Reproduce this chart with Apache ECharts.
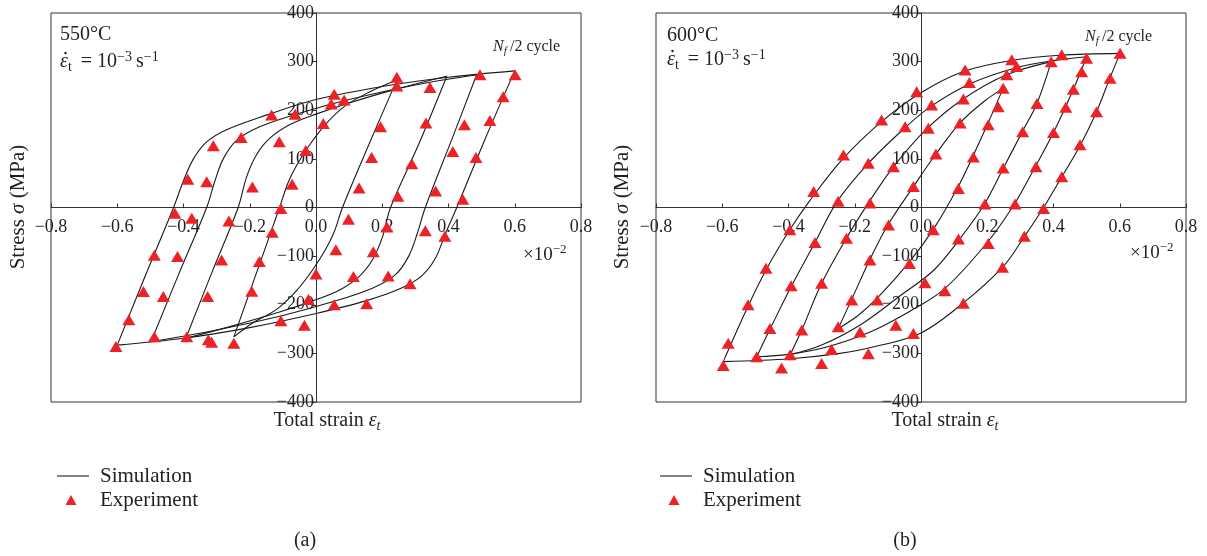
<!DOCTYPE html>
<html>
<head>
<meta charset="utf-8">
<script src="https://cdn.jsdelivr.net/npm/echarts@6.0.0/dist/echarts.min.js"></script>
<style>
  html, body { margin: 0; padding: 0; background: #fff; }
  #chart { width: 1207px; height: 556px; }
</style>
</head>
<body>
<div id="chart"></div>
<script>
// strain in units of 1e-2, stress in MPa

// axis ranges / tick steps
const strainRange = [-0.8, 0.8];
const strainStep = 0.2;
const stressRange = [-400, 400];
const stressStep = 100;

// ---- (a) 550 °C : simulated branches (up = loading, dn = unloading) ----
const sim550_up60 = [[-0.60,-283],[-0.515,-140],[-0.43,0],[-0.40,55],[-0.37,100],[-0.33,135],[-0.27,160],[-0.15,190],[0.0,222],[0.2,249],[0.4,268],[0.60,281]];
const sim550_dn60 = [[0.60,281],[0.51,140],[0.425,0],[0.39,-55],[0.36,-105],[0.32,-140],[0.26,-165],[0.15,-192],[0.0,-218],[-0.2,-247],[-0.4,-269],[-0.60,-283]];
const sim550_up50 = [[-0.498,-276],[-0.415,-138],[-0.33,0],[-0.305,55],[-0.28,100],[-0.24,138],[-0.17,166],[-0.05,194],[0.1,222],[0.3,252],[0.485,273]];
const sim550_dn50 = [[0.485,273],[0.41,140],[0.33,0],[0.305,-55],[0.28,-100],[0.24,-138],[0.17,-166],[0.05,-194],[-0.1,-222],[-0.3,-252],[-0.498,-276]];
const sim550_up40 = [[-0.393,-269],[-0.315,-135],[-0.235,0],[-0.21,62],[-0.18,108],[-0.14,142],[-0.08,170],[0.0,192],[0.1,215],[0.25,245],[0.395,270]];
const sim550_dn40 = [[0.395,270],[0.31,130],[0.225,0],[0.20,-62],[0.17,-108],[0.13,-142],[0.07,-170],[-0.01,-192],[-0.11,-215],[-0.26,-245],[-0.393,-269]];
const sim550_up25 = [[-0.248,-266],[-0.18,-135],[-0.11,0],[-0.085,50],[-0.06,85],[-0.02,128],[0.03,172],[0.09,210],[0.16,237],[0.244,262]];
const sim550_dn25 = [[0.244,262],[0.16,130],[0.08,0],[0.055,-50],[0.03,-85],[-0.01,-128],[-0.06,-172],[-0.12,-210],[-0.19,-237],[-0.248,-266]];

// (a) experiment points
const exp550 = [
  [-0.604,-286],[-0.565,-231],[-0.521,-173],[-0.488,-98],[-0.426,-12],[-0.387,58],[-0.31,127],[-0.134,190],
  [-0.488,-266],[-0.461,-183],[-0.418,-101],[-0.375,-22],[-0.33,53],[-0.226,144],[-0.063,192],
  [-0.39,-266],[-0.327,-183],[-0.285,-108],[-0.263,-28],[-0.192,42],[-0.111,135],
  [-0.325,-272],[-0.315,-277],[-0.248,-279],[-0.194,-172],[-0.171,-111],[-0.132,-51],[-0.106,-2],[-0.072,48],[-0.031,117],[0.022,173],
  [-0.106,-233],[-0.035,-242],[-0.023,-189],[0.0,-137],[0.055,-200],[0.06,-87],[0.098,-24],[0.13,40],[0.168,103],[0.195,166],
  [0.244,268],[0.244,250],[0.046,213],[0.055,233],[0.085,221],
  [0.113,-142],[0.153,-198],[0.173,-91],[0.214,-40],[0.218,-141],[0.247,23],[0.289,90],[0.332,174],[0.344,247],
  [0.284,-157],[0.33,-48],[0.389,-59],[0.361,34],[0.413,115],[0.448,170],[0.443,17],[0.483,103],[0.525,179],[0.565,228],[0.495,273],[0.601,273]
];

// ---- (b) 600 °C : simulated branches ----
const sim600_up60 = [[-0.597,-317],[-0.52,-200],[-0.465,-125],[-0.40,-50],[-0.34,10],[-0.24,97],[-0.12,176],[0.0,236],[0.13,280],[0.27,302],[0.42,313],[0.601,317]];
const sim600_dn60 = [[0.601,317],[0.57,266],[0.53,197],[0.48,127],[0.425,63],[0.37,0],[0.31,-62],[0.25,-120],[0.13,-195],[0.0,-258],[-0.145,-287],[-0.245,-300],[-0.395,-311],[-0.597,-317]];
const sim600_up50 = [[-0.496,-307],[-0.455,-249],[-0.39,-160],[-0.32,-72],[-0.255,10],[-0.16,90],[-0.05,163],[0.03,208],[0.15,255],[0.29,288],[0.40,302],[0.50,310]];
const sim600_dn50 = [[0.50,310],[0.46,243],[0.40,154],[0.345,84],[0.28,5],[0.20,-72],[0.07,-168],[-0.03,-212],[-0.15,-255],[-0.29,-288],[-0.40,-302],[-0.496,-307]];
const sim600_up40 = [[-0.395,-303],[-0.36,-252],[-0.30,-156],[-0.225,-63],[-0.16,8],[-0.085,82],[0.015,160],[0.125,222],[0.255,272],[0.393,300]];
const sim600_dn40 = [[0.393,300],[0.35,214],[0.305,155],[0.248,80],[0.19,5],[0.12,-62],[0.04,-128],[-0.06,-180],[-0.18,-240],[-0.30,-283],[-0.395,-303]];
const sim600_up25 = [[-0.25,-249],[-0.21,-190],[-0.155,-108],[-0.10,-36],[-0.023,43],[0.045,110],[0.118,174],[0.19,218],[0.248,245]];
const sim600_dn25 = [[0.248,245],[0.20,170],[0.155,103],[0.11,40],[0.04,-42],[-0.035,-112],[-0.13,-185],[-0.19,-222],[-0.25,-249]];

// (b) experiment points
const exp600 = [
  [-0.597,-325],[-0.582,-279],[-0.522,-200],[-0.468,-125],[-0.396,-46],[-0.324,33],[-0.234,108],[-0.119,180],[-0.013,238],[0.133,283],[0.274,304],[0.425,314],[0.601,317],
  [-0.496,-307],[-0.456,-249],[-0.392,-161],[-0.32,-72],[-0.25,13],[-0.159,91],[-0.048,166],[0.032,211],[0.146,257],[0.289,290],[0.50,307],
  [-0.395,-303],[-0.36,-252],[-0.30,-156],[-0.225,-63],[-0.154,9],[-0.083,84],[0.022,163],[0.128,223],[0.259,273],[0.393,300],
  [-0.25,-245],[-0.209,-190],[-0.154,-108],[-0.098,-36],[-0.023,43],[0.045,110],[0.118,174],[0.248,245],
  [0.571,266],[0.53,197],[0.48,129],[0.425,63],[0.37,-2],[0.312,-59],[0.246,-123],[0.128,-197],[-0.023,-259],[-0.159,-301],[-0.30,-321],[-0.421,-330],
  [0.485,279],[0.46,243],[0.437,206],[0.40,154],[0.347,84],[0.284,7],[0.203,-74],[0.072,-171],[-0.076,-242],[-0.27,-292],
  [0.35,214],[0.307,156],[0.248,81],[0.193,7],[0.113,-65],[0.012,-155],[-0.184,-256],
  [0.233,207],[0.203,170],[0.158,104],[0.113,39],[0.037,-46],[-0.035,-115],[-0.132,-190]
];

const panels = [
  { left: 51,  sims: [sim550_up60, sim550_dn60, sim550_up50, sim550_dn50, sim550_up40, sim550_dn40, sim550_up25, sim550_dn25], exp: exp550 },
  { left: 656, sims: [sim600_up60, sim600_dn60, sim600_up50, sim600_dn50, sim600_up40, sim600_dn40, sim600_up25, sim600_dn25], exp: exp600 }
];

const SERIF = '"Liberation Serif", "Times New Roman", serif';
const INK = '#231f20';
const AXIS = '#333';
const RED = '#ec2227';
const GRID_W = 530, GRID_H = 389;

const minus = s => s.replace('-', '\u2212');

function richFor(size) {
  const small = Math.round(size * 0.7);
  return {
    it:    { fontSize: size, fontFamily: SERIF, fontStyle: 'italic', lineHeight: Math.round(size * 1.2) },
    sup:   { fontSize: small, fontFamily: SERIF, lineHeight: small, verticalAlign: 'top' },
    sub:   { fontSize: small, fontFamily: SERIF, lineHeight: small, verticalAlign: 'bottom' },
    subit: { fontSize: small, fontFamily: SERIF, fontStyle: 'italic', lineHeight: small, verticalAlign: 'bottom' }
  };
}

function txt(x, y, text, size, align, rotation) {
  return {
    type: 'text', x: x, y: y, rotation: rotation || 0, silent: true,
    style: {
      text: text, fontSize: size, fontFamily: SERIF, fill: INK,
      lineHeight: Math.round(size * 1.2),
      textAlign: align || 'left', textVerticalAlign: 'middle',
      rich: richFor(size)
    }
  };
}

const grids = [], xAxes = [], yAxes = [], series = [], graphics = [];

panels.forEach((p, i) => {
  grids.push({ left: p.left, top: 13, width: GRID_W, height: GRID_H, show: true, borderColor: AXIS, borderWidth: 1 });
  // axes cross at the origin: shift them from the grid edge into the middle
  xAxes.push({
    gridIndex: i, type: 'value', position: 'bottom', offset: -GRID_H / 2,
    min: strainRange[0], max: strainRange[1], interval: strainStep,
    axisLine: { onZero: false, lineStyle: { color: AXIS, width: 1 } },
    axisTick: { inside: true, length: 4, lineStyle: { color: AXIS } },
    axisLabel: { color: INK, fontFamily: SERIF, fontSize: 18, margin: 11,
      formatter: v => minus((Math.abs(v) < 1e-9 ? 0 : v).toFixed(1)) },
    splitLine: { show: false }
  });
  yAxes.push({
    gridIndex: i, type: 'value', position: 'left', offset: -GRID_W / 2,
    min: stressRange[0], max: stressRange[1], interval: stressStep,
    axisLine: { show: true, onZero: false, lineStyle: { color: AXIS, width: 1 } },
    axisTick: { show: true, inside: false, length: 4, lineStyle: { color: AXIS } },
    axisLabel: { color: INK, fontFamily: SERIF, fontSize: 18, margin: 2,
      formatter: v => minus(String(v)) },
    splitLine: { show: false }
  });
  p.sims.forEach(d => series.push({
    type: 'line', name: 'Simulation', xAxisIndex: i, yAxisIndex: i, data: d,
    symbol: 'none', smooth: 0.35, silent: true, z: 2,
    lineStyle: { color: '#1a1a1a', width: 1.1 }
  }));
  series.push({
    type: 'scatter', name: 'Experiment', xAxisIndex: i, yAxisIndex: i, data: p.exp,
    symbol: 'triangle', symbolSize: [13, 11], silent: true, z: 3,
    itemStyle: { color: RED, opacity: 1 }
  });
});

// annotations, axis titles, legends, panel tags
const labelsA = { dx: 0,   temp: '550°C', tempY: 35, rateY: 62, nfX: 493,  nfY: 47, expX: 523,  expY: 255, totX: 327, strX: 18,  tag: '(a)', tagX: 305 };
const labelsB = { dx: 607, temp: '600°C', tempY: 36, rateY: 60, nfX: 1085, nfY: 37, expX: 1130, expY: 253, totX: 945, strX: 622, tag: '(b)', tagX: 905 };

[labelsA, labelsB].forEach(L => {
  const x0 = 60 + L.dx;
  graphics.push(txt(x0, L.tempY, L.temp, 20));
  graphics.push(txt(x0, L.rateY, '{it|\u03b5}{sub|t}\u2009 = 10{sup|\u22123}\u2009s{sup|\u22121}', 20));
  // dot over epsilon (rate)
  graphics.push({ type: 'circle', silent: true, shape: { cx: x0 + 5.5, cy: L.rateY - 9, r: 1.2 }, style: { fill: INK } });
  graphics.push(txt(L.nfX, L.nfY, '{it|N}{subit|f}\u2009/2 cycle', 16));
  graphics.push(txt(L.expX, L.expY, '\u00d710{sup|\u22122}', 19));
  graphics.push(txt(L.totX, 421, 'Total strain {it|\u03b5}{subit|t}', 20, 'center'));
  graphics.push(txt(L.strX, 207, 'Stress {it|\u03c3} (MPa)', 21, 'center', Math.PI / 2));
  // legend
  const lx = L.dx ? 660 : 57;
  graphics.push({ type: 'line', silent: true, shape: { x1: lx, y1: 476, x2: lx + 32, y2: 476 }, style: { stroke: AXIS, lineWidth: 1.2 } });
  graphics.push(txt(lx + 43, 476, 'Simulation', 21));
  graphics.push({ type: 'polygon', silent: true, shape: { points: [[lx + 14, 495], [lx + 8.5, 505], [lx + 19.5, 505]] }, style: { fill: RED } });
  graphics.push(txt(lx + 43, 500, 'Experiment', 21));
  graphics.push(txt(L.tagX, 541, L.tag, 20, 'center'));
});

const chart = echarts.init(document.getElementById('chart'), null, { renderer: 'canvas' });
chart.setOption({
  animation: false,
  backgroundColor: '#fff',
  grid: grids,
  xAxis: xAxes,
  yAxis: yAxes,
  series: series,
  graphic: graphics
});
</script>
</body>
</html>
